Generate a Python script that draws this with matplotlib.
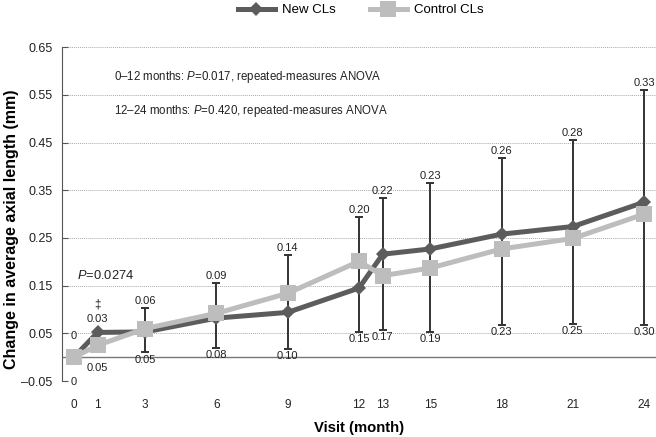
import numpy as np
import matplotlib.pyplot as plt

plt.rcParams['font.family'] = ['Liberation Sans', 'DejaVu Sans']
plt.rcParams['mathtext.fontset'] = 'custom'
plt.rcParams['mathtext.rm'] = 'Liberation Sans'
plt.rcParams['mathtext.it'] = 'Liberation Sans:italic'

# ----------------------------
# Data
# ----------------------------
visits = [0, 1, 3, 6, 9, 12, 13, 15, 18, 21, 24]
new_cls = [0.0, 0.052, 0.053, 0.082, 0.094, 0.145, 0.216, 0.227, 0.258, 0.274, 0.325]
control_cls = [0.0, 0.025, 0.060, 0.092, 0.134, 0.201, 0.171, 0.187, 0.227, 0.249, 0.300]

# error bar ends (nan = no bar drawn)
err_top = [np.nan, np.nan, 0.103, 0.155, 0.214, 0.294, 0.333, 0.365, 0.417, 0.455, 0.560]
err_bottom = [np.nan, np.nan, 0.010, 0.019, 0.017, 0.052, 0.057, 0.052, 0.067, 0.069, 0.067]

upper_labels = ['0', '0.03', '0.06', '0.09', '0.14', '0.20', '0.22', '0.23', '0.26', '0.28', '0.33']
lower_labels = ['0', '0.05', '0.05', '0.08', '0.10', '0.15', '0.17', '0.19', '0.23', '0.25', '0.30']

yticks = [-0.05, 0.05, 0.15, 0.25, 0.35, 0.45, 0.55, 0.65]

dark = '#5c5c5c'
light = '#bdbdbd'
bar_col = '#333333'
txt = '#222222'

# ----------------------------
# Figure and axis setup
# ----------------------------
fig = plt.figure(figsize=(6.56, 4.37), dpi=100)
ax = fig.add_axes([0.0945, 0.128, 0.9055, 0.764])

ax.set_xlim(-0.5, 24.5)
ax.set_ylim(-0.05, 0.65)
ax.set_xticks(visits)
ax.set_xticklabels([str(v) for v in visits])
ax.set_yticks(yticks)
ax.set_yticklabels([f"{t:.2f}".replace('-', '\u2013') for t in yticks])
ax.tick_params(axis='x', length=0, pad=13, labelsize=8.5, labelcolor=txt)
ax.tick_params(axis='y', direction='in', length=4, pad=7, labelsize=9,
               colors='#555555', labelcolor=txt)

for s in ['top', 'right', 'bottom']:
    ax.spines[s].set_visible(False)
ax.spines['left'].set_color('#555555')

ax.yaxis.grid(True, linestyle=(0, (1, 1)), color='#aaaaaa', linewidth=0.7)
ax.set_axisbelow(True)
ax.axhline(0, color='#777777', linewidth=1, zorder=1)

ax.set_xlabel("Visit (month)", fontsize=10.7, fontweight='bold', labelpad=7)
ax.set_ylabel("Change in average axial length (mm)", fontsize=11.5, fontweight='bold')
ax.yaxis.set_label_coords(-0.072, 0.455)

# ----------------------------
# Error bars, lines
# ----------------------------
top = np.array(err_top)
bot = np.array(err_bottom)
mid = (top + bot) / 2
ax.errorbar(visits, mid, yerr=[mid - bot, top - mid], fmt='none',
            ecolor=bar_col, elinewidth=1.4, capsize=3, capthick=1.4, zorder=2)

ax.plot(visits, new_cls, color=dark, linewidth=3.6, marker='D', markersize=7.5,
        markeredgewidth=0, label='New CLs', zorder=3)
ax.plot(visits, control_cls, color=light, linewidth=3.6, marker='s', markersize=11.5,
        markeredgewidth=0, label='Control CLs', zorder=4)

# ----------------------------
# Value labels
# ----------------------------
for i, v in enumerate(visits):
    if np.isnan(top[i]):
        hi = max(new_cls[i], control_cls[i])
        lo = min(new_cls[i], control_cls[i])
        up_off = 12 if v == 0 else 6
        dn_off = -14 if v == 0 else -13
    else:
        hi, lo = top[i], bot[i]
        up_off, dn_off = 1.5, -1.5
    ax.annotate(upper_labels[i], (v, hi), xytext=(0, up_off), textcoords='offset points',
                ha='center', va='bottom', fontsize=8, color=txt)
    ax.annotate(lower_labels[i], (v, lo), xytext=(0, dn_off), textcoords='offset points',
                ha='center', va='top', fontsize=8, color=txt)

ax.annotate('\u2021', (1, max(new_cls[1], control_cls[1])), xytext=(0, 16),
            textcoords='offset points', ha='center', va='bottom', fontsize=8.5, color=txt)

ax.text(0.13, 0.172, '$P$=0.0274', fontsize=9.3, va='center', ha='left', color=txt)
ax.text(1.7, 0.587, '0\u201312 months: $P$=0.017, repeated-measures ANOVA',
        fontsize=8.3, va='center', ha='left', color=txt)
ax.text(1.7, 0.516, '12\u201324 months: $P$=0.420, repeated-measures ANOVA',
        fontsize=8.3, va='center', ha='left', color=txt)

fig.legend(loc='center', bbox_to_anchor=(0.55, 0.977), ncol=2, frameon=False,
           fontsize=9.5, handlelength=2.8, columnspacing=2.6, handletextpad=0.55)

fig.savefig('out.png', dpi=100)
